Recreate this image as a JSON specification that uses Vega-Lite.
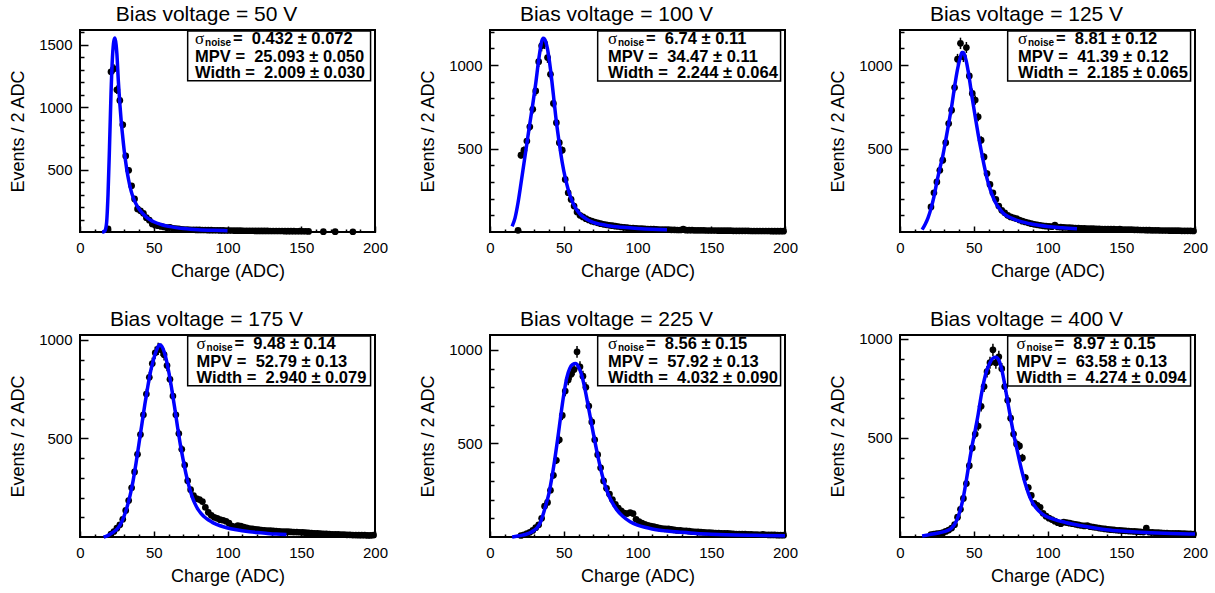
{
  "$schema": "https://vega.github.io/schema/vega-lite/v6.json",
  "background": "white",
  "padding": {"left": 8, "top": 3, "right": 0, "bottom": 0},
  "columns": 3,
  "spacing": {"row": 103, "column": 115},
  "bounds": "flush",
  "datasets": {
    "h50": [
      {"x":19,"y":25,"e":5},{"x":21,"y":1285,"e":36},{"x":23,"y":1310,"e":36},{"x":25,"y":1140,"e":34},{"x":27,"y":1055,"e":32},
      {"x":29,"y":860,"e":29},{"x":31,"y":610,"e":25},{"x":33,"y":495,"e":22},{"x":35,"y":370,"e":19},{"x":37,"y":265,"e":16},
      {"x":39,"y":185,"e":14},{"x":41,"y":170,"e":13},{"x":43,"y":150,"e":12},{"x":45,"y":115,"e":11},{"x":47,"y":95,"e":10},
      {"x":49,"y":65,"e":8},{"x":51,"y":55,"e":7},{"x":53,"y":50,"e":7},{"x":55,"y":45,"e":7},{"x":57,"y":40,"e":6},
      {"x":59,"y":35,"e":6},{"x":61,"y":38,"e":6},{"x":63,"y":30,"e":5},{"x":65,"y":28,"e":5},{"x":67,"y":25,"e":5},
      {"x":69,"y":22,"e":5},{"x":71,"y":20,"e":4},{"x":73,"y":19,"e":4},{"x":75,"y":18,"e":4},{"x":77,"y":18,"e":4},
      {"x":79,"y":17,"e":4},{"x":81,"y":17,"e":4},{"x":83,"y":16,"e":4},{"x":85,"y":16,"e":4},{"x":87,"y":15,"e":4},
      {"x":89,"y":15,"e":4},{"x":91,"y":14,"e":4},{"x":93,"y":14,"e":4},{"x":95,"y":13,"e":4},{"x":97,"y":13,"e":4},
      {"x":99,"y":12,"e":3},{"x":101,"y":12,"e":3},{"x":103,"y":12,"e":3},{"x":105,"y":11,"e":3},{"x":107,"y":11,"e":3},
      {"x":109,"y":11,"e":3},{"x":111,"y":10,"e":3},{"x":113,"y":10,"e":3},{"x":115,"y":10,"e":3},{"x":117,"y":10,"e":3},
      {"x":119,"y":9,"e":3},{"x":121,"y":9,"e":3},{"x":123,"y":9,"e":3},{"x":125,"y":9,"e":3},{"x":127,"y":9,"e":3},
      {"x":129,"y":8,"e":3},{"x":131,"y":8,"e":3},{"x":133,"y":8,"e":3},{"x":135,"y":8,"e":3},{"x":137,"y":8,"e":3},
      {"x":139,"y":7,"e":3},{"x":141,"y":7,"e":3},{"x":143,"y":7,"e":3},{"x":145,"y":7,"e":3},{"x":147,"y":6,"e":2},
      {"x":149,"y":7,"e":3},{"x":151,"y":6,"e":2},{"x":153,"y":6,"e":2},{"x":155,"y":5,"e":2},{"x":165,"y":3,"e":2},
      {"x":173,"y":3,"e":2},{"x":185,"y":2,"e":1}
    ],
    "f50": [
      {"x":15,"f":0},{"x":16,"f":2},{"x":17,"f":12},{"x":18,"f":70},{"x":19,"f":300},{"x":20,"f":680},{"x":21,"f":1100},
      {"x":22,"f":1400},{"x":23,"f":1535},{"x":23.7,"f":1555},{"x":24.5,"f":1500},{"x":25,"f":1430},{"x":26,"f":1210},
      {"x":27,"f":1030},{"x":28,"f":880},{"x":29,"f":760},{"x":30,"f":650},{"x":31,"f":560},{"x":32,"f":480},{"x":33,"f":415},
      {"x":34,"f":360},{"x":35,"f":315},{"x":36,"f":280},{"x":37,"f":250},{"x":38,"f":225},{"x":40,"f":185},{"x":42,"f":155},
      {"x":44,"f":130},{"x":46,"f":110},{"x":48,"f":95},{"x":50,"f":82},{"x":55,"f":60},{"x":60,"f":45},{"x":65,"f":35},
      {"x":70,"f":28},{"x":75,"f":23},{"x":80,"f":19},{"x":90,"f":14},{"x":100,"f":11}
    ],
    "h100": [
      {"x":19,"y":10,"e":3},{"x":21,"y":460,"e":21},{"x":23,"y":490,"e":22},{"x":25,"y":545,"e":23},{"x":27,"y":630,"e":25},
      {"x":29,"y":735,"e":27},{"x":31,"y":845,"e":29},{"x":33,"y":1020,"e":32},{"x":35,"y":1115,"e":33},{"x":37,"y":1130,"e":34},
      {"x":39,"y":1045,"e":32},{"x":41,"y":945,"e":31},{"x":43,"y":770,"e":28},{"x":45,"y":655,"e":26},{"x":47,"y":535,"e":23},
      {"x":49,"y":490,"e":22},{"x":51,"y":315,"e":18},{"x":53,"y":235,"e":15},{"x":55,"y":195,"e":14},{"x":57,"y":155,"e":12},
      {"x":59,"y":120,"e":11},{"x":61,"y":100,"e":10},{"x":63,"y":90,"e":9},{"x":65,"y":80,"e":9},{"x":67,"y":72,"e":8},
      {"x":69,"y":65,"e":8},{"x":71,"y":60,"e":8},{"x":73,"y":55,"e":7},{"x":75,"y":50,"e":7},{"x":77,"y":46,"e":7},
      {"x":79,"y":43,"e":7},{"x":81,"y":40,"e":6},{"x":83,"y":38,"e":6},{"x":85,"y":35,"e":6},{"x":87,"y":33,"e":6},
      {"x":89,"y":30,"e":5},{"x":91,"y":28,"e":5},{"x":93,"y":26,"e":5},{"x":95,"y":24,"e":5},{"x":97,"y":23,"e":5},
      {"x":99,"y":22,"e":5},{"x":101,"y":21,"e":5},{"x":103,"y":20,"e":4},{"x":105,"y":19,"e":4},{"x":107,"y":18,"e":4},
      {"x":109,"y":17,"e":4},{"x":111,"y":17,"e":4},{"x":113,"y":16,"e":4},{"x":115,"y":15,"e":4},{"x":117,"y":15,"e":4},
      {"x":119,"y":14,"e":4},{"x":121,"y":14,"e":4},{"x":123,"y":13,"e":4},{"x":125,"y":13,"e":4},{"x":127,"y":12,"e":3},
      {"x":129,"y":12,"e":3},{"x":131,"y":18,"e":4},{"x":133,"y":11,"e":3},{"x":135,"y":11,"e":3},{"x":137,"y":11,"e":3},
      {"x":139,"y":10,"e":3},{"x":141,"y":10,"e":3},{"x":143,"y":10,"e":3},{"x":145,"y":10,"e":3},{"x":147,"y":9,"e":3},
      {"x":149,"y":9,"e":3},{"x":151,"y":9,"e":3},{"x":153,"y":9,"e":3},{"x":155,"y":8,"e":3},{"x":157,"y":8,"e":3},
      {"x":159,"y":8,"e":3},{"x":161,"y":8,"e":3},{"x":163,"y":8,"e":3},{"x":165,"y":7,"e":3},{"x":167,"y":7,"e":3},
      {"x":169,"y":7,"e":3},{"x":171,"y":7,"e":3},{"x":173,"y":7,"e":3},{"x":175,"y":7,"e":3},{"x":177,"y":6,"e":2},
      {"x":179,"y":6,"e":2},{"x":181,"y":6,"e":2},{"x":183,"y":6,"e":2},{"x":185,"y":6,"e":2},{"x":187,"y":6,"e":2},
      {"x":189,"y":6,"e":2},{"x":191,"y":5,"e":2},{"x":193,"y":5,"e":2},{"x":195,"y":5,"e":2},{"x":197,"y":5,"e":2},
      {"x":199,"y":5,"e":2}
    ],
    "f100": [
      {"x":15,"f":34},{"x":17,"f":85},{"x":19,"f":175},{"x":21,"f":290},{"x":23,"f":410},{"x":25,"f":530},{"x":27,"f":650},
      {"x":29,"f":765},{"x":31,"f":890},{"x":33,"f":1030},{"x":35,"f":1140},{"x":36,"f":1160},{"x":37,"f":1155},{"x":39,"f":1095},
      {"x":41,"f":975},{"x":43,"f":820},{"x":45,"f":660},{"x":47,"f":530},{"x":49,"f":415},{"x":51,"f":325},{"x":53,"f":255},
      {"x":55,"f":200},{"x":57,"f":160},{"x":59,"f":130},{"x":61,"f":108},{"x":63,"f":92},{"x":65,"f":80},{"x":70,"f":58},
      {"x":75,"f":46},{"x":80,"f":38},{"x":90,"f":28},{"x":100,"f":21},{"x":110,"f":16},{"x":120,"f":13}
    ],
    "h125": [
      {"x":21,"y":150,"e":12},{"x":23,"y":235,"e":15},{"x":25,"y":300,"e":17},{"x":27,"y":370,"e":19},{"x":29,"y":430,"e":21},
      {"x":31,"y":535,"e":23},{"x":33,"y":650,"e":25},{"x":35,"y":730,"e":27},{"x":37,"y":865,"e":29},{"x":39,"y":1035,"e":32},
      {"x":41,"y":1130,"e":34},{"x":43,"y":1050,"e":32},{"x":45,"y":1105,"e":33},{"x":47,"y":935,"e":31},{"x":49,"y":830,"e":29},
      {"x":51,"y":790,"e":28},{"x":53,"y":690,"e":26},{"x":55,"y":550,"e":23},{"x":57,"y":450,"e":21},{"x":59,"y":350,"e":19},
      {"x":61,"y":285,"e":17},{"x":63,"y":235,"e":15},{"x":65,"y":195,"e":14},{"x":67,"y":155,"e":12},{"x":69,"y":130,"e":11},
      {"x":71,"y":115,"e":11},{"x":73,"y":100,"e":10},{"x":75,"y":90,"e":9},{"x":77,"y":85,"e":9},{"x":79,"y":80,"e":9},
      {"x":81,"y":72,"e":8},{"x":83,"y":65,"e":8},{"x":85,"y":60,"e":8},{"x":87,"y":55,"e":7},{"x":89,"y":50,"e":7},
      {"x":91,"y":46,"e":7},{"x":93,"y":43,"e":7},{"x":95,"y":40,"e":6},{"x":97,"y":37,"e":6},{"x":99,"y":35,"e":6},
      {"x":101,"y":34,"e":6},{"x":103,"y":32,"e":6},{"x":105,"y":42,"e":6},{"x":107,"y":30,"e":5},{"x":109,"y":29,"e":5},
      {"x":111,"y":28,"e":5},{"x":113,"y":27,"e":5},{"x":115,"y":26,"e":5},{"x":117,"y":25,"e":5},{"x":119,"y":24,"e":5},
      {"x":121,"y":23,"e":5},{"x":123,"y":22,"e":5},{"x":125,"y":22,"e":5},{"x":127,"y":21,"e":5},{"x":129,"y":20,"e":4},
      {"x":131,"y":20,"e":4},{"x":133,"y":19,"e":4},{"x":135,"y":19,"e":4},{"x":137,"y":18,"e":4},{"x":139,"y":18,"e":4},
      {"x":141,"y":17,"e":4},{"x":143,"y":18,"e":4},{"x":145,"y":17,"e":4},{"x":147,"y":16,"e":4},{"x":149,"y":18,"e":4},
      {"x":151,"y":15,"e":4},{"x":153,"y":15,"e":4},{"x":155,"y":14,"e":4},{"x":157,"y":14,"e":4},{"x":159,"y":13,"e":4},
      {"x":161,"y":13,"e":4},{"x":163,"y":12,"e":3},{"x":165,"y":12,"e":3},{"x":167,"y":11,"e":3},{"x":169,"y":11,"e":3},
      {"x":171,"y":10,"e":3},{"x":173,"y":10,"e":3},{"x":175,"y":10,"e":3},{"x":177,"y":9,"e":3},{"x":179,"y":9,"e":3},
      {"x":181,"y":9,"e":3},{"x":183,"y":8,"e":3},{"x":185,"y":8,"e":3},{"x":187,"y":8,"e":3},{"x":189,"y":8,"e":3},
      {"x":191,"y":7,"e":3},{"x":193,"y":7,"e":3},{"x":195,"y":7,"e":3},{"x":197,"y":7,"e":3},{"x":199,"y":6,"e":2}
    ],
    "f125": [
      {"x":15,"f":14},{"x":17,"f":45},{"x":19,"f":85},{"x":21,"f":140},{"x":23,"f":210},{"x":25,"f":300},{"x":27,"f":380},
      {"x":29,"f":455},{"x":31,"f":550},{"x":33,"f":650},{"x":35,"f":750},{"x":37,"f":870},{"x":39,"f":975},{"x":41,"f":1050},
      {"x":42,"f":1075},{"x":43,"f":1075},{"x":45,"f":1020},{"x":47,"f":920},{"x":49,"f":800},{"x":51,"f":690},{"x":53,"f":585},
      {"x":55,"f":490},{"x":57,"f":400},{"x":59,"f":320},{"x":61,"f":260},{"x":63,"f":210},{"x":65,"f":172},{"x":67,"f":145},
      {"x":70,"f":113},{"x":75,"f":85},{"x":80,"f":68},{"x":90,"f":46},{"x":100,"f":33},{"x":110,"f":25},{"x":120,"f":19}
    ],
    "h175": [
      {"x":21,"y":15,"e":4},{"x":23,"y":28,"e":5},{"x":25,"y":45,"e":7},{"x":27,"y":62,"e":8},{"x":29,"y":90,"e":9},
      {"x":31,"y":135,"e":12},{"x":33,"y":185,"e":14},{"x":35,"y":250,"e":16},{"x":37,"y":330,"e":18},{"x":39,"y":420,"e":20},
      {"x":41,"y":520,"e":23},{"x":43,"y":620,"e":25},{"x":45,"y":725,"e":27},{"x":47,"y":810,"e":28},{"x":49,"y":880,"e":30},
      {"x":51,"y":935,"e":31},{"x":53,"y":955,"e":31},{"x":55,"y":950,"e":31},{"x":57,"y":925,"e":30},{"x":59,"y":870,"e":29},
      {"x":61,"y":800,"e":28},{"x":63,"y":715,"e":27},{"x":65,"y":620,"e":25},{"x":67,"y":525,"e":23},{"x":69,"y":445,"e":21},
      {"x":71,"y":365,"e":19},{"x":73,"y":285,"e":17},{"x":75,"y":240,"e":15},{"x":77,"y":210,"e":14},{"x":79,"y":195,"e":14},
      {"x":81,"y":190,"e":14},{"x":83,"y":180,"e":13},{"x":85,"y":150,"e":12},{"x":87,"y":125,"e":11},{"x":89,"y":110,"e":10},
      {"x":91,"y":100,"e":10},{"x":93,"y":95,"e":10},{"x":95,"y":88,"e":9},{"x":97,"y":85,"e":9},{"x":99,"y":80,"e":9},
      {"x":101,"y":70,"e":8},{"x":103,"y":55,"e":7},{"x":105,"y":52,"e":7},{"x":107,"y":58,"e":8},{"x":109,"y":55,"e":7},
      {"x":111,"y":50,"e":7},{"x":113,"y":46,"e":7},{"x":115,"y":43,"e":7},{"x":117,"y":41,"e":6},{"x":119,"y":39,"e":6},
      {"x":121,"y":37,"e":6},{"x":123,"y":35,"e":6},{"x":125,"y":34,"e":6},{"x":127,"y":33,"e":6},{"x":129,"y":32,"e":6},
      {"x":131,"y":31,"e":6},{"x":133,"y":30,"e":5},{"x":135,"y":29,"e":5},{"x":137,"y":28,"e":5},{"x":139,"y":27,"e":5},
      {"x":141,"y":27,"e":5},{"x":143,"y":26,"e":5},{"x":145,"y":25,"e":5},{"x":147,"y":25,"e":5},{"x":149,"y":24,"e":5},
      {"x":151,"y":23,"e":5},{"x":153,"y":22,"e":5},{"x":155,"y":21,"e":5},{"x":157,"y":20,"e":4},{"x":159,"y":19,"e":4},
      {"x":161,"y":18,"e":4},{"x":163,"y":17,"e":4},{"x":165,"y":16,"e":4},{"x":167,"y":16,"e":4},{"x":169,"y":15,"e":4},
      {"x":171,"y":14,"e":4},{"x":173,"y":13,"e":4},{"x":175,"y":13,"e":4},{"x":177,"y":12,"e":3},{"x":179,"y":12,"e":3},
      {"x":181,"y":11,"e":3},{"x":183,"y":11,"e":3},{"x":185,"y":10,"e":3},{"x":187,"y":10,"e":3},{"x":189,"y":9,"e":3},
      {"x":191,"y":9,"e":3},{"x":193,"y":9,"e":3},{"x":195,"y":8,"e":3},{"x":197,"y":8,"e":3},{"x":199,"y":10,"e":3}
    ],
    "f175": [
      {"x":16,"f":0},{"x":18,"f":5},{"x":20,"f":12},{"x":22,"f":22},{"x":24,"f":33},{"x":26,"f":48},{"x":28,"f":72},
      {"x":30,"f":108},{"x":32,"f":155},{"x":34,"f":212},{"x":36,"f":285},{"x":38,"f":375},{"x":40,"f":475},{"x":42,"f":575},
      {"x":44,"f":675},{"x":46,"f":765},{"x":48,"f":845},{"x":50,"f":905},{"x":52,"f":950},{"x":54,"f":975},{"x":56,"f":960},
      {"x":58,"f":915},{"x":60,"f":845},{"x":62,"f":760},{"x":64,"f":665},{"x":66,"f":565},{"x":68,"f":470},{"x":70,"f":390},
      {"x":72,"f":315},{"x":74,"f":255},{"x":76,"f":205},{"x":78,"f":168},{"x":80,"f":140},{"x":82,"f":120},{"x":84,"f":104},
      {"x":86,"f":92},{"x":88,"f":82},{"x":90,"f":73},{"x":95,"f":57},{"x":100,"f":46},{"x":105,"f":38},{"x":110,"f":32},
      {"x":115,"f":27},{"x":120,"f":23},{"x":126,"f":19},{"x":133,"f":15},{"x":140,"f":13}
    ],
    "h225": [
      {"x":21,"y":8,"e":3},{"x":23,"y":12,"e":3},{"x":25,"y":18,"e":4},{"x":27,"y":25,"e":5},{"x":29,"y":35,"e":6},
      {"x":31,"y":50,"e":7},{"x":33,"y":65,"e":8},{"x":35,"y":100,"e":10},{"x":37,"y":165,"e":13},{"x":39,"y":185,"e":14},
      {"x":41,"y":250,"e":16},{"x":43,"y":330,"e":18},{"x":45,"y":410,"e":20},{"x":47,"y":520,"e":23},{"x":49,"y":650,"e":25},
      {"x":51,"y":780,"e":28},{"x":53,"y":840,"e":29},{"x":55,"y":870,"e":29},{"x":57,"y":895,"e":30},{"x":59,"y":990,"e":31},
      {"x":61,"y":910,"e":30},{"x":63,"y":860,"e":29},{"x":65,"y":800,"e":28},{"x":67,"y":700,"e":26},{"x":69,"y":615,"e":25},
      {"x":71,"y":520,"e":23},{"x":73,"y":440,"e":21},{"x":75,"y":370,"e":19},{"x":77,"y":300,"e":17},{"x":79,"y":260,"e":16},
      {"x":81,"y":230,"e":15},{"x":83,"y":200,"e":14},{"x":85,"y":175,"e":13},{"x":87,"y":155,"e":12},{"x":89,"y":140,"e":12},
      {"x":91,"y":128,"e":11},{"x":93,"y":125,"e":11},{"x":95,"y":130,"e":11},{"x":97,"y":125,"e":11},{"x":99,"y":95,"e":10},
      {"x":101,"y":82,"e":9},{"x":103,"y":74,"e":9},{"x":105,"y":67,"e":8},{"x":107,"y":62,"e":8},{"x":109,"y":58,"e":8},
      {"x":111,"y":55,"e":7},{"x":113,"y":51,"e":7},{"x":115,"y":48,"e":7},{"x":117,"y":45,"e":7},{"x":119,"y":43,"e":7},
      {"x":121,"y":44,"e":7},{"x":123,"y":41,"e":6},{"x":125,"y":38,"e":6},{"x":127,"y":35,"e":6},{"x":129,"y":36,"e":6},
      {"x":131,"y":33,"e":6},{"x":133,"y":33,"e":6},{"x":135,"y":31,"e":6},{"x":137,"y":29,"e":5},{"x":139,"y":28,"e":5},
      {"x":141,"y":27,"e":5},{"x":143,"y":26,"e":5},{"x":145,"y":25,"e":5},{"x":147,"y":24,"e":5},{"x":149,"y":23,"e":5},
      {"x":151,"y":22,"e":5},{"x":153,"y":21,"e":5},{"x":155,"y":21,"e":5},{"x":157,"y":20,"e":4},{"x":159,"y":19,"e":4},
      {"x":161,"y":19,"e":4},{"x":163,"y":18,"e":4},{"x":165,"y":17,"e":4},{"x":167,"y":16,"e":4},{"x":169,"y":16,"e":4},
      {"x":171,"y":15,"e":4},{"x":173,"y":15,"e":4},{"x":175,"y":14,"e":4},{"x":177,"y":14,"e":4},{"x":179,"y":13,"e":4},
      {"x":181,"y":13,"e":4},{"x":183,"y":12,"e":3},{"x":185,"y":14,"e":4},{"x":187,"y":12,"e":3},{"x":189,"y":11,"e":3},
      {"x":191,"y":11,"e":3},{"x":193,"y":11,"e":3},{"x":195,"y":10,"e":3},{"x":197,"y":10,"e":3},{"x":199,"y":10,"e":3}
    ],
    "f225": [
      {"x":15,"f":0},{"x":18,"f":4},{"x":22,"f":10},{"x":25,"f":16},{"x":28,"f":26},{"x":30,"f":36},{"x":32,"f":50},
      {"x":34,"f":75},{"x":36,"f":120},{"x":38,"f":175},{"x":40,"f":235},{"x":42,"f":320},{"x":44,"f":420},{"x":46,"f":530},
      {"x":48,"f":650},{"x":50,"f":760},{"x":52,"f":850},{"x":54,"f":900},{"x":56,"f":922},{"x":58,"f":927},{"x":60,"f":910},
      {"x":62,"f":870},{"x":64,"f":805},{"x":66,"f":725},{"x":68,"f":640},{"x":70,"f":555},{"x":72,"f":475},{"x":74,"f":400},
      {"x":76,"f":333},{"x":78,"f":277},{"x":80,"f":232},{"x":83,"f":182},{"x":86,"f":145},{"x":90,"f":111},{"x":95,"f":82},
      {"x":100,"f":64},{"x":105,"f":52},{"x":110,"f":43},{"x":120,"f":32},{"x":130,"f":25},{"x":140,"f":19},{"x":150,"f":15},
      {"x":160,"f":12},{"x":180,"f":9},{"x":200,"f":7}
    ],
    "h400": [
      {"x":21,"y":12,"e":3},{"x":23,"y":14,"e":4},{"x":25,"y":17,"e":4},{"x":27,"y":19,"e":4},{"x":29,"y":22,"e":5},
      {"x":31,"y":28,"e":5},{"x":33,"y":35,"e":6},{"x":35,"y":45,"e":7},{"x":37,"y":62,"e":8},{"x":39,"y":100,"e":10},
      {"x":41,"y":140,"e":12},{"x":43,"y":195,"e":14},{"x":45,"y":270,"e":16},{"x":47,"y":360,"e":19},{"x":49,"y":450,"e":21},
      {"x":51,"y":520,"e":23},{"x":53,"y":560,"e":24},{"x":55,"y":660,"e":26},{"x":57,"y":760,"e":28},{"x":59,"y":835,"e":29},
      {"x":61,"y":880,"e":30},{"x":63,"y":945,"e":31},{"x":65,"y":880,"e":30},{"x":67,"y":910,"e":30},{"x":69,"y":850,"e":29},
      {"x":71,"y":760,"e":28},{"x":73,"y":690,"e":26},{"x":75,"y":600,"e":24},{"x":77,"y":520,"e":23},{"x":79,"y":470,"e":22},
      {"x":81,"y":460,"e":21},{"x":83,"y":400,"e":20},{"x":85,"y":300,"e":17},{"x":87,"y":250,"e":16},{"x":89,"y":210,"e":14},
      {"x":91,"y":170,"e":13},{"x":93,"y":160,"e":13},{"x":95,"y":150,"e":12},{"x":97,"y":120,"e":11},{"x":99,"y":105,"e":10},
      {"x":101,"y":95,"e":10},{"x":103,"y":88,"e":9},{"x":105,"y":80,"e":9},{"x":107,"y":72,"e":8},{"x":109,"y":67,"e":8},
      {"x":111,"y":75,"e":9},{"x":113,"y":73,"e":9},{"x":115,"y":70,"e":8},{"x":117,"y":67,"e":8},{"x":119,"y":64,"e":8},
      {"x":121,"y":61,"e":8},{"x":123,"y":58,"e":8},{"x":125,"y":56,"e":7},{"x":127,"y":57,"e":8},{"x":129,"y":52,"e":7},
      {"x":131,"y":50,"e":7},{"x":133,"y":48,"e":7},{"x":135,"y":45,"e":7},{"x":137,"y":43,"e":7},{"x":139,"y":41,"e":6},
      {"x":141,"y":39,"e":6},{"x":143,"y":37,"e":6},{"x":145,"y":36,"e":6},{"x":147,"y":34,"e":6},{"x":149,"y":33,"e":6},
      {"x":151,"y":32,"e":6},{"x":153,"y":31,"e":6},{"x":155,"y":30,"e":5},{"x":157,"y":29,"e":5},{"x":159,"y":28,"e":5},
      {"x":161,"y":27,"e":5},{"x":163,"y":26,"e":5},{"x":165,"y":25,"e":5},{"x":167,"y":45,"e":7},{"x":169,"y":24,"e":5},
      {"x":171,"y":23,"e":5},{"x":173,"y":22,"e":5},{"x":175,"y":22,"e":5},{"x":177,"y":21,"e":5},{"x":179,"y":20,"e":4},
      {"x":181,"y":20,"e":4},{"x":183,"y":19,"e":4},{"x":185,"y":19,"e":4},{"x":187,"y":18,"e":4},{"x":189,"y":18,"e":4},
      {"x":191,"y":17,"e":4},{"x":193,"y":17,"e":4},{"x":195,"y":16,"e":4},{"x":197,"y":16,"e":4},{"x":199,"y":15,"e":4}
    ],
    "f400": [
      {"x":15,"f":5},{"x":20,"f":12},{"x":26,"f":20},{"x":30,"f":27},{"x":33,"f":35},{"x":35,"f":46},{"x":37,"f":64},
      {"x":39,"f":94},{"x":41,"f":140},{"x":43,"f":203},{"x":45,"f":288},{"x":47,"f":380},{"x":49,"f":465},{"x":51,"f":540},
      {"x":53,"f":620},{"x":55,"f":712},{"x":57,"f":790},{"x":59,"f":845},{"x":61,"f":880},{"x":63,"f":903},{"x":65,"f":908},
      {"x":67,"f":893},{"x":69,"f":845},{"x":71,"f":770},{"x":73,"f":683},{"x":75,"f":600},{"x":77,"f":522},{"x":79,"f":452},
      {"x":81,"f":385},{"x":83,"f":322},{"x":85,"f":267},{"x":87,"f":222},{"x":89,"f":186},{"x":91,"f":160},{"x":94,"f":132},
      {"x":98,"f":109},{"x":103,"f":93},{"x":107,"f":83},{"x":112,"f":74},{"x":116,"f":67},{"x":122,"f":58},{"x":128,"f":50},
      {"x":134,"f":43},{"x":140,"f":37},{"x":150,"f":30},{"x":160,"f":25},{"x":170,"f":22},{"x":184,"f":18},{"x":200,"f":15}
    ]
  },
  "concat": [
    {
      "width": 295, "height": 202,
      "title": {"text": "Bias voltage = 50 V"},
      "data": {"values": [{}]},
      "resolve": {"axis": {"x": "independent", "y": "independent"}},
      "layer": [
        {"data": {"name": "h50"}, "mark": {"type": "errorbar", "color": "black", "thickness": 1.5},
         "encoding": {"x": {"field": "x", "type": "quantitative", "axis": null}, "y": {"field": "y", "type": "quantitative", "axis": null}, "yError": {"field": "e"}}},
        {"data": {"name": "h50"}, "mark": {"type": "circle", "color": "black", "size": 45, "opacity": 1},
         "encoding": {
           "x": {"field": "x", "type": "quantitative", "title": "Charge (ADC)", "scale": {"domain": [0, 200], "nice": false, "zero": false},
             "axis": {"orient": "bottom", "values": [0, 50, 100, 150, 200], "format": "d", "tickSize": -6, "labelPadding": 14, "titlePadding": 7, "labelOverlap": false, "labelFlush": false}},
           "y": {"field": "y", "type": "quantitative", "title": "Events / 2 ADC", "scale": {"domain": [0, 1620], "nice": false},
             "axis": {"orient": "left", "values": [500, 1000, 1500], "format": "d", "tickSize": -8, "labelPadding": 16, "titlePadding": 11, "labelOverlap": false}}}},
        {"data": {"name": "f50"}, "mark": {"type": "line", "color": "#0000ff", "strokeWidth": 3.5, "interpolate": "monotone"},
         "encoding": {
           "x": {"field": "x", "type": "quantitative", "axis": {"orient": "bottom", "values": [10,20,30,40,60,70,80,90,110,120,130,140,160,170,180,190], "tickSize": -3, "labels": false, "title": null}},
           "y": {"field": "f", "type": "quantitative", "axis": {"orient": "left", "values": [100,200,300,400,600,700,800,900,1100,1200,1300,1400,1600], "tickSize": -4, "labels": false, "title": null}}}},
        {"mark": {"type": "rect", "fill": "white", "stroke": "black", "strokeWidth": 1.5},
         "encoding": {"x": {"datum": 73, "axis": null}, "x2": {"datum": 197}, "y": {"datum": 1612, "axis": null}, "y2": {"datum": 1212}}},
        {"mark": {"type": "text", "text": "σ", "font": "Liberation Serif", "fontSize": 17, "align": "left", "baseline": "middle"},
         "encoding": {"x": {"datum": 78, "axis": null}, "y": {"datum": 1547, "axis": null}}},
        {"mark": {"type": "text", "text": "noise", "fontSize": 10, "fontWeight": "bold", "align": "left", "baseline": "middle", "dx": 10, "dy": 4},
         "encoding": {"x": {"datum": 78, "axis": null}, "y": {"datum": 1547, "axis": null}}},
        {"mark": {"type": "text", "text": "=\u00a0 0.432 ± 0.072", "fontSize": 16.5, "fontWeight": "bold", "align": "left", "baseline": "middle", "dx": 38},
         "encoding": {"x": {"datum": 78, "axis": null}, "y": {"datum": 1547, "axis": null}}},
        {"mark": {"type": "text", "text": "MPV =\u00a0 25.093 ± 0.050", "fontSize": 16.5, "fontWeight": "bold", "align": "left", "baseline": "middle"},
         "encoding": {"x": {"datum": 78, "axis": null}, "y": {"datum": 1403, "axis": null}}},
        {"mark": {"type": "text", "text": "Width =\u00a0 2.009 ± 0.030", "fontSize": 16.5, "fontWeight": "bold", "align": "left", "baseline": "middle"},
         "encoding": {"x": {"datum": 78, "axis": null}, "y": {"datum": 1275, "axis": null}}}
      ]
    },
    {
      "width": 295, "height": 202,
      "title": {"text": "Bias voltage = 100 V"},
      "data": {"values": [{}]},
      "resolve": {"axis": {"x": "independent", "y": "independent"}},
      "layer": [
        {"data": {"name": "h100"}, "mark": {"type": "errorbar", "color": "black", "thickness": 1.5},
         "encoding": {"x": {"field": "x", "type": "quantitative", "axis": null}, "y": {"field": "y", "type": "quantitative", "axis": null}, "yError": {"field": "e"}}},
        {"data": {"name": "h100"}, "mark": {"type": "circle", "color": "black", "size": 45, "opacity": 1},
         "encoding": {
           "x": {"field": "x", "type": "quantitative", "title": "Charge (ADC)", "scale": {"domain": [0, 200], "nice": false, "zero": false},
             "axis": {"orient": "bottom", "values": [0, 50, 100, 150, 200], "format": "d", "tickSize": -6, "labelPadding": 14, "titlePadding": 7, "labelOverlap": false, "labelFlush": false}},
           "y": {"field": "y", "type": "quantitative", "title": "Events / 2 ADC", "scale": {"domain": [0, 1210], "nice": false},
             "axis": {"orient": "left", "values": [500, 1000], "format": "d", "tickSize": -8, "labelPadding": 16, "titlePadding": 11, "labelOverlap": false}}}},
        {"data": {"name": "f100"}, "mark": {"type": "line", "color": "#0000ff", "strokeWidth": 3.5, "interpolate": "monotone"},
         "encoding": {
           "x": {"field": "x", "type": "quantitative", "axis": {"orient": "bottom", "values": [10,20,30,40,60,70,80,90,110,120,130,140,160,170,180,190], "tickSize": -3, "labels": false, "title": null}},
           "y": {"field": "f", "type": "quantitative", "axis": {"orient": "left", "values": [100,200,300,400,600,700,800,900,1100,1200], "tickSize": -4, "labels": false, "title": null}}}},
        {"mark": {"type": "rect", "fill": "white", "stroke": "black", "strokeWidth": 1.5},
         "encoding": {"x": {"datum": 73, "axis": null}, "x2": {"datum": 197}, "y": {"datum": 1204, "axis": null}, "y2": {"datum": 905}}},
        {"mark": {"type": "text", "text": "σ", "font": "Liberation Serif", "fontSize": 17, "align": "left", "baseline": "middle"},
         "encoding": {"x": {"datum": 80, "axis": null}, "y": {"datum": 1156, "axis": null}}},
        {"mark": {"type": "text", "text": "noise", "fontSize": 10, "fontWeight": "bold", "align": "left", "baseline": "middle", "dx": 10, "dy": 4},
         "encoding": {"x": {"datum": 80, "axis": null}, "y": {"datum": 1156, "axis": null}}},
        {"mark": {"type": "text", "text": "=\u00a0 6.74 ± 0.11", "fontSize": 16.5, "fontWeight": "bold", "align": "left", "baseline": "middle", "dx": 38},
         "encoding": {"x": {"datum": 80, "axis": null}, "y": {"datum": 1156, "axis": null}}},
        {"mark": {"type": "text", "text": "MPV =\u00a0 34.47 ± 0.11", "fontSize": 16.5, "fontWeight": "bold", "align": "left", "baseline": "middle"},
         "encoding": {"x": {"datum": 80, "axis": null}, "y": {"datum": 1048, "axis": null}}},
        {"mark": {"type": "text", "text": "Width =\u00a0 2.244 ± 0.064", "fontSize": 16.5, "fontWeight": "bold", "align": "left", "baseline": "middle"},
         "encoding": {"x": {"datum": 80, "axis": null}, "y": {"datum": 952, "axis": null}}}
      ]
    },
    {
      "width": 295, "height": 202,
      "title": {"text": "Bias voltage = 125 V"},
      "data": {"values": [{}]},
      "resolve": {"axis": {"x": "independent", "y": "independent"}},
      "layer": [
        {"data": {"name": "h125"}, "mark": {"type": "errorbar", "color": "black", "thickness": 1.5},
         "encoding": {"x": {"field": "x", "type": "quantitative", "axis": null}, "y": {"field": "y", "type": "quantitative", "axis": null}, "yError": {"field": "e"}}},
        {"data": {"name": "h125"}, "mark": {"type": "circle", "color": "black", "size": 45, "opacity": 1},
         "encoding": {
           "x": {"field": "x", "type": "quantitative", "title": "Charge (ADC)", "scale": {"domain": [0, 200], "nice": false, "zero": false},
             "axis": {"orient": "bottom", "values": [0, 50, 100, 150, 200], "format": "d", "tickSize": -6, "labelPadding": 14, "titlePadding": 7, "labelOverlap": false, "labelFlush": false}},
           "y": {"field": "y", "type": "quantitative", "title": "Events / 2 ADC", "scale": {"domain": [0, 1210], "nice": false},
             "axis": {"orient": "left", "values": [500, 1000], "format": "d", "tickSize": -8, "labelPadding": 16, "titlePadding": 11, "labelOverlap": false}}}},
        {"data": {"name": "f125"}, "mark": {"type": "line", "color": "#0000ff", "strokeWidth": 3.5, "interpolate": "monotone"},
         "encoding": {
           "x": {"field": "x", "type": "quantitative", "axis": {"orient": "bottom", "values": [10,20,30,40,60,70,80,90,110,120,130,140,160,170,180,190], "tickSize": -3, "labels": false, "title": null}},
           "y": {"field": "f", "type": "quantitative", "axis": {"orient": "left", "values": [100,200,300,400,600,700,800,900,1100,1200], "tickSize": -4, "labels": false, "title": null}}}},
        {"mark": {"type": "rect", "fill": "white", "stroke": "black", "strokeWidth": 1.5},
         "encoding": {"x": {"datum": 73, "axis": null}, "x2": {"datum": 197}, "y": {"datum": 1204, "axis": null}, "y2": {"datum": 905}}},
        {"mark": {"type": "text", "text": "σ", "font": "Liberation Serif", "fontSize": 17, "align": "left", "baseline": "middle"},
         "encoding": {"x": {"datum": 80, "axis": null}, "y": {"datum": 1156, "axis": null}}},
        {"mark": {"type": "text", "text": "noise", "fontSize": 10, "fontWeight": "bold", "align": "left", "baseline": "middle", "dx": 10, "dy": 4},
         "encoding": {"x": {"datum": 80, "axis": null}, "y": {"datum": 1156, "axis": null}}},
        {"mark": {"type": "text", "text": "=\u00a0 8.81 ± 0.12", "fontSize": 16.5, "fontWeight": "bold", "align": "left", "baseline": "middle", "dx": 38},
         "encoding": {"x": {"datum": 80, "axis": null}, "y": {"datum": 1156, "axis": null}}},
        {"mark": {"type": "text", "text": "MPV =\u00a0 41.39 ± 0.12", "fontSize": 16.5, "fontWeight": "bold", "align": "left", "baseline": "middle"},
         "encoding": {"x": {"datum": 80, "axis": null}, "y": {"datum": 1048, "axis": null}}},
        {"mark": {"type": "text", "text": "Width =\u00a0 2.185 ± 0.065", "fontSize": 16.5, "fontWeight": "bold", "align": "left", "baseline": "middle"},
         "encoding": {"x": {"datum": 80, "axis": null}, "y": {"datum": 952, "axis": null}}}
      ]
    },
    {
      "width": 295, "height": 202,
      "title": {"text": "Bias voltage = 175 V", "offset": 2.5},
      "data": {"values": [{}]},
      "resolve": {"axis": {"x": "independent", "y": "independent"}},
      "layer": [
        {"data": {"name": "h175"}, "mark": {"type": "errorbar", "color": "black", "thickness": 1.5},
         "encoding": {"x": {"field": "x", "type": "quantitative", "axis": null}, "y": {"field": "y", "type": "quantitative", "axis": null}, "yError": {"field": "e"}}},
        {"data": {"name": "h175"}, "mark": {"type": "circle", "color": "black", "size": 45, "opacity": 1},
         "encoding": {
           "x": {"field": "x", "type": "quantitative", "title": "Charge (ADC)", "scale": {"domain": [0, 200], "nice": false, "zero": false},
             "axis": {"orient": "bottom", "values": [0, 50, 100, 150, 200], "format": "d", "tickSize": -6, "labelPadding": 14, "titlePadding": 7, "labelOverlap": false, "labelFlush": false}},
           "y": {"field": "y", "type": "quantitative", "title": "Events / 2 ADC", "scale": {"domain": [0, 1025], "nice": false},
             "axis": {"orient": "left", "values": [500, 1000], "format": "d", "tickSize": -8, "labelPadding": 16, "titlePadding": 11, "labelOverlap": false}}}},
        {"data": {"name": "f175"}, "mark": {"type": "line", "color": "#0000ff", "strokeWidth": 3.5, "interpolate": "monotone"},
         "encoding": {
           "x": {"field": "x", "type": "quantitative", "axis": {"orient": "bottom", "values": [10,20,30,40,60,70,80,90,110,120,130,140,160,170,180,190], "tickSize": -3, "labels": false, "title": null}},
           "y": {"field": "f", "type": "quantitative", "axis": {"orient": "left", "values": [100,200,300,400,600,700,800,900], "tickSize": -4, "labels": false, "title": null}}}},
        {"mark": {"type": "rect", "fill": "white", "stroke": "black", "strokeWidth": 1.5},
         "encoding": {"x": {"datum": 73, "axis": null}, "x2": {"datum": 197}, "y": {"datum": 1020, "axis": null}, "y2": {"datum": 767}}},
        {"mark": {"type": "text", "text": "σ", "font": "Liberation Serif", "fontSize": 17, "align": "left", "baseline": "middle"},
         "encoding": {"x": {"datum": 79, "axis": null}, "y": {"datum": 979, "axis": null}}},
        {"mark": {"type": "text", "text": "noise", "fontSize": 10, "fontWeight": "bold", "align": "left", "baseline": "middle", "dx": 10, "dy": 4},
         "encoding": {"x": {"datum": 79, "axis": null}, "y": {"datum": 979, "axis": null}}},
        {"mark": {"type": "text", "text": "=\u00a0 9.48 ± 0.14", "fontSize": 16.5, "fontWeight": "bold", "align": "left", "baseline": "middle", "dx": 38},
         "encoding": {"x": {"datum": 79, "axis": null}, "y": {"datum": 979, "axis": null}}},
        {"mark": {"type": "text", "text": "MPV =\u00a0 52.79 ± 0.13", "fontSize": 16.5, "fontWeight": "bold", "align": "left", "baseline": "middle"},
         "encoding": {"x": {"datum": 79, "axis": null}, "y": {"datum": 888, "axis": null}}},
        {"mark": {"type": "text", "text": "Width =\u00a0 2.940 ± 0.079", "fontSize": 16.5, "fontWeight": "bold", "align": "left", "baseline": "middle"},
         "encoding": {"x": {"datum": 79, "axis": null}, "y": {"datum": 807, "axis": null}}}
      ]
    },
    {
      "width": 295, "height": 202,
      "title": {"text": "Bias voltage = 225 V"},
      "data": {"values": [{}]},
      "resolve": {"axis": {"x": "independent", "y": "independent"}},
      "layer": [
        {"data": {"name": "h225"}, "mark": {"type": "errorbar", "color": "black", "thickness": 1.5},
         "encoding": {"x": {"field": "x", "type": "quantitative", "axis": null}, "y": {"field": "y", "type": "quantitative", "axis": null}, "yError": {"field": "e"}}},
        {"data": {"name": "h225"}, "mark": {"type": "circle", "color": "black", "size": 45, "opacity": 1},
         "encoding": {
           "x": {"field": "x", "type": "quantitative", "title": "Charge (ADC)", "scale": {"domain": [0, 200], "nice": false, "zero": false},
             "axis": {"orient": "bottom", "values": [0, 50, 100, 150, 200], "format": "d", "tickSize": -6, "labelPadding": 14, "titlePadding": 7, "labelOverlap": false, "labelFlush": false}},
           "y": {"field": "y", "type": "quantitative", "title": "Events / 2 ADC", "scale": {"domain": [0, 1080], "nice": false},
             "axis": {"orient": "left", "values": [500, 1000], "format": "d", "tickSize": -8, "labelPadding": 16, "titlePadding": 11, "labelOverlap": false}}}},
        {"data": {"name": "f225"}, "mark": {"type": "line", "color": "#0000ff", "strokeWidth": 3.5, "interpolate": "monotone"},
         "encoding": {
           "x": {"field": "x", "type": "quantitative", "axis": {"orient": "bottom", "values": [10,20,30,40,60,70,80,90,110,120,130,140,160,170,180,190], "tickSize": -3, "labels": false, "title": null}},
           "y": {"field": "f", "type": "quantitative", "axis": {"orient": "left", "values": [100,200,300,400,600,700,800,900], "tickSize": -4, "labels": false, "title": null}}}},
        {"mark": {"type": "rect", "fill": "white", "stroke": "black", "strokeWidth": 1.5},
         "encoding": {"x": {"datum": 73, "axis": null}, "x2": {"datum": 197}, "y": {"datum": 1075, "axis": null}, "y2": {"datum": 808}}},
        {"mark": {"type": "text", "text": "σ", "font": "Liberation Serif", "fontSize": 17, "align": "left", "baseline": "middle"},
         "encoding": {"x": {"datum": 80, "axis": null}, "y": {"datum": 1031, "axis": null}}},
        {"mark": {"type": "text", "text": "noise", "fontSize": 10, "fontWeight": "bold", "align": "left", "baseline": "middle", "dx": 10, "dy": 4},
         "encoding": {"x": {"datum": 80, "axis": null}, "y": {"datum": 1031, "axis": null}}},
        {"mark": {"type": "text", "text": "=\u00a0 8.56 ± 0.15", "fontSize": 16.5, "fontWeight": "bold", "align": "left", "baseline": "middle", "dx": 38},
         "encoding": {"x": {"datum": 80, "axis": null}, "y": {"datum": 1031, "axis": null}}},
        {"mark": {"type": "text", "text": "MPV =\u00a0 57.92 ± 0.13", "fontSize": 16.5, "fontWeight": "bold", "align": "left", "baseline": "middle"},
         "encoding": {"x": {"datum": 80, "axis": null}, "y": {"datum": 935, "axis": null}}},
        {"mark": {"type": "text", "text": "Width =\u00a0 4.032 ± 0.090", "fontSize": 16.5, "fontWeight": "bold", "align": "left", "baseline": "middle"},
         "encoding": {"x": {"datum": 80, "axis": null}, "y": {"datum": 850, "axis": null}}}
      ]
    },
    {
      "width": 295, "height": 202,
      "title": {"text": "Bias voltage = 400 V", "offset": 1.5},
      "data": {"values": [{}]},
      "resolve": {"axis": {"x": "independent", "y": "independent"}},
      "layer": [
        {"data": {"name": "h400"}, "mark": {"type": "errorbar", "color": "black", "thickness": 1.5},
         "encoding": {"x": {"field": "x", "type": "quantitative", "axis": null}, "y": {"field": "y", "type": "quantitative", "axis": null}, "yError": {"field": "e"}}},
        {"data": {"name": "h400"}, "mark": {"type": "circle", "color": "black", "size": 45, "opacity": 1},
         "encoding": {
           "x": {"field": "x", "type": "quantitative", "title": "Charge (ADC)", "scale": {"domain": [0, 200], "nice": false, "zero": false},
             "axis": {"orient": "bottom", "values": [0, 50, 100, 150, 200], "format": "d", "tickSize": -6, "labelPadding": 14, "titlePadding": 7, "labelOverlap": false, "labelFlush": false}},
           "y": {"field": "y", "type": "quantitative", "title": "Events / 2 ADC", "scale": {"domain": [0, 1020], "nice": false},
             "axis": {"orient": "left", "values": [500, 1000], "format": "d", "tickSize": -8, "labelPadding": 16, "titlePadding": 11, "labelOverlap": false}}}},
        {"data": {"name": "f400"}, "mark": {"type": "line", "color": "#0000ff", "strokeWidth": 3.5, "interpolate": "monotone"},
         "encoding": {
           "x": {"field": "x", "type": "quantitative", "axis": {"orient": "bottom", "values": [10,20,30,40,60,70,80,90,110,120,130,140,160,170,180,190], "tickSize": -3, "labels": false, "title": null}},
           "y": {"field": "f", "type": "quantitative", "axis": {"orient": "left", "values": [100,200,300,400,600,700,800,900], "tickSize": -4, "labels": false, "title": null}}}},
        {"mark": {"type": "rect", "fill": "white", "stroke": "black", "strokeWidth": 1.5},
         "encoding": {"x": {"datum": 73, "axis": null}, "x2": {"datum": 197}, "y": {"datum": 1015, "axis": null}, "y2": {"datum": 763}}},
        {"mark": {"type": "text", "text": "σ", "font": "Liberation Serif", "fontSize": 17, "align": "left", "baseline": "middle"},
         "encoding": {"x": {"datum": 79, "axis": null}, "y": {"datum": 974, "axis": null}}},
        {"mark": {"type": "text", "text": "noise", "fontSize": 10, "fontWeight": "bold", "align": "left", "baseline": "middle", "dx": 10, "dy": 4},
         "encoding": {"x": {"datum": 79, "axis": null}, "y": {"datum": 974, "axis": null}}},
        {"mark": {"type": "text", "text": "=\u00a0 8.97 ± 0.15", "fontSize": 16.5, "fontWeight": "bold", "align": "left", "baseline": "middle", "dx": 38},
         "encoding": {"x": {"datum": 79, "axis": null}, "y": {"datum": 974, "axis": null}}},
        {"mark": {"type": "text", "text": "MPV =\u00a0 63.58 ± 0.13", "fontSize": 16.5, "fontWeight": "bold", "align": "left", "baseline": "middle"},
         "encoding": {"x": {"datum": 79, "axis": null}, "y": {"datum": 883, "axis": null}}},
        {"mark": {"type": "text", "text": "Width =\u00a0 4.274 ± 0.094", "fontSize": 16.5, "fontWeight": "bold", "align": "left", "baseline": "middle"},
         "encoding": {"x": {"datum": 79, "axis": null}, "y": {"datum": 803, "axis": null}}}
      ]
    }
  ],
  "config": {
    "font": "Liberation Sans",
    "view": {"stroke": "black", "strokeWidth": 2},
    "axis": {
      "domain": false, "grid": false, "ticks": true, "tickColor": "black", "tickWidth": 1.5,
      "labelFont": "Liberation Sans", "labelFontSize": 15, "labelColor": "black", "labelOverlap": false, "labelFlush": false,
      "titleFont": "Liberation Sans", "titleFontSize": 18, "titleFontWeight": "normal", "titleColor": "black"
    },
    "title": {"font": "Liberation Sans", "fontSize": 21, "fontWeight": "normal", "color": "black", "frame": "group", "dx": -21, "offset": 5, "baseline": "alphabetic"},
    "text": {"font": "Liberation Sans", "color": "black"}
  }
}
